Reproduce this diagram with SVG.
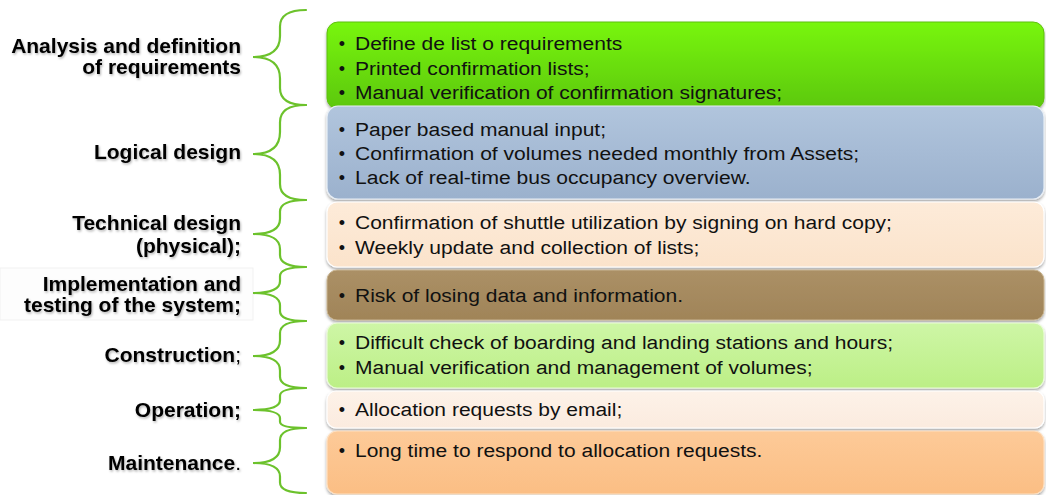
<svg xmlns="http://www.w3.org/2000/svg" width="1046" height="495" viewBox="0 0 1046 495">
<defs>
<style>
.lbl{font-family:"Liberation Sans",Arial,sans-serif;font-weight:bold;font-size:21px;fill:#000;text-anchor:end;filter:url(#tsh)}
.nb{font-weight:normal}
.bt{font-family:"Liberation Sans",Arial,sans-serif;font-size:18px;fill:#111}
.bul{font-family:"Liberation Sans",Arial,sans-serif;font-size:18px;fill:#111;text-anchor:middle}
.box{filter:url(#bsh)}
.brace{fill:none;stroke:#6cc22c;stroke-width:2.2;stroke-linecap:round}
</style>
<filter id="tsh" x="-10%" y="-30%" width="120%" height="160%">
<feDropShadow dx="1" dy="1.5" stdDeviation="1" flood-color="#000" flood-opacity="0.3"/>
</filter>
<filter id="bsh" x="-5%" y="-20%" width="110%" height="150%">
<feDropShadow dx="0" dy="2" stdDeviation="1.5" flood-color="#000" flood-opacity="0.35"/>
</filter>
<linearGradient id="g1" x1="0" y1="0" x2="0" y2="1"><stop offset="0" stop-color="#78f60e"/><stop offset="1" stop-color="#5cc708"/></linearGradient>
<linearGradient id="g2" x1="0" y1="0" x2="0" y2="1"><stop offset="0" stop-color="#b1c5dd"/><stop offset="1" stop-color="#9bb1cd"/></linearGradient>
<linearGradient id="g3" x1="0" y1="0" x2="0" y2="1"><stop offset="0" stop-color="#fdebd9"/><stop offset="1" stop-color="#fbe3cb"/></linearGradient>
<linearGradient id="g4" x1="0" y1="0" x2="0" y2="1"><stop offset="0" stop-color="#ab9066"/><stop offset="1" stop-color="#a08458"/></linearGradient>
<linearGradient id="g5" x1="0" y1="0" x2="0" y2="1"><stop offset="0" stop-color="#cef6a6"/><stop offset="1" stop-color="#bcef86"/></linearGradient>
<linearGradient id="g6" x1="0" y1="0" x2="0" y2="1"><stop offset="0" stop-color="#fdf2e8"/><stop offset="1" stop-color="#fbebdf"/></linearGradient>
<linearGradient id="g7" x1="0" y1="0" x2="0" y2="1"><stop offset="0" stop-color="#fdca98"/><stop offset="1" stop-color="#fbbe84"/></linearGradient>
</defs>
<rect width="1046" height="495" fill="#fff"/>
<rect x="0" y="268" width="253" height="52" fill="#fdfdfd" stroke="#f1f1f1" stroke-width="1"/>

<g id="connectors">
<path class="brace" d="M306,10 Q280,10 280,26.5 L280,36 Q280,57 253,57 Q280,57 280,78.6 L280,88.2 Q280,105 306,105"/>
<path class="brace" d="M306,105 Q280,105 280,122.2 L280,132 Q280,154 253,154 Q280,154 280,174.7 L280,183.9 Q280,200 306,200"/>
<path class="brace" d="M306,200 Q280,200 280,211.6 L280,219 Q280,234 253,234 Q280,234 280,249 L280,255.1 Q280,267 306,267"/>
<path class="brace" d="M306,267 Q280,267 280,276.1 L280,281.3 Q280,293 253,293 Q280,293 280,305.6 L280,311.2 Q280,321 306,321"/>
<path class="brace" d="M306,321 Q280,321 280,333.3 L280,340.2 Q280,356 253,356 Q280,356 280,370.4 L280,376.8 Q280,388 306,388"/>
<path class="brace" d="M306,388 Q280,388 280,395.7 L280,400.1 Q280,410 253,410 Q280,410 280,418.1 L280,421.7 Q280,428 306,428"/>
<path class="brace" d="M306,428 Q280,428 280,440.3 L280,447.2 Q280,463 253,463 Q280,463 280,476.5 L280,482.5 Q280,493 306,493"/>
</g>

<g id="label1"><text class="lbl" x="241" y="53">Analysis and definition</text><text class="lbl" x="241" y="74">of requirements</text></g>
<g id="label2"><text class="lbl" x="241" y="159">Logical design</text></g>
<g id="label3"><text class="lbl" x="241" y="230">Technical design</text><text class="lbl" x="241" y="253">(physical);</text></g>
<g id="label4"><text class="lbl" x="241" y="291">Implementation and</text><text class="lbl" x="241" y="312">testing of the system;</text></g>
<g id="label5"><text class="lbl" x="241" y="362">Construction<tspan class="nb">;</tspan></text></g>
<g id="label6"><text class="lbl" x="241" y="417">Operation;</text></g>
<g id="label7"><text class="lbl" x="241" y="470">Maintenance<tspan class="nb">.</tspan></text></g>

<g id="box1">
<rect class="box" x="327" y="22" width="717" height="87" rx="11" fill="url(#g1)" stroke="#5fbf10" stroke-width="1"/>
<text class="bul" x="342" y="50">•</text><text class="bt" x="355" y="50" textLength="267.3" lengthAdjust="spacingAndGlyphs">Define de list o requirements</text>
<text class="bul" x="342" y="74.5">•</text><text class="bt" x="355" y="74.5" textLength="234.6" lengthAdjust="spacingAndGlyphs">Printed confirmation lists;</text>
<text class="bul" x="342" y="99">•</text><text class="bt" x="355" y="99" textLength="427.2" lengthAdjust="spacingAndGlyphs">Manual verification of confirmation signatures;</text>
</g>
<g id="box2">
<rect class="box" x="327" y="106" width="717" height="93" rx="11" fill="url(#g2)" stroke="#e8eef5" stroke-width="1.2"/>
<text class="bul" x="342" y="136">•</text><text class="bt" x="355" y="136" textLength="251" lengthAdjust="spacingAndGlyphs">Paper based manual input;</text>
<text class="bul" x="342" y="160">•</text><text class="bt" x="355" y="160" textLength="504.2" lengthAdjust="spacingAndGlyphs">Confirmation of volumes needed monthly from Assets;</text>
<text class="bul" x="342" y="184">•</text><text class="bt" x="355" y="184" textLength="395.6" lengthAdjust="spacingAndGlyphs">Lack of real-time bus occupancy overview.</text>
</g>
<g id="box3">
<rect class="box" x="327" y="202" width="717" height="65" rx="10" fill="url(#g3)" stroke="#fff" stroke-width="1.2"/>
<text class="bul" x="342" y="229">•</text><text class="bt" x="355" y="229" textLength="536.9" lengthAdjust="spacingAndGlyphs">Confirmation of shuttle utilization by signing on hard copy;</text>
<text class="bul" x="342" y="254">•</text><text class="bt" x="355" y="254" textLength="344.3" lengthAdjust="spacingAndGlyphs">Weekly update and collection of lists;</text>
</g>
<g id="box4">
<rect class="box" x="327" y="270" width="717" height="50" rx="10" fill="url(#g4)" stroke="#c8b490" stroke-width="1"/>
<text class="bul" x="342" y="302">•</text><text class="bt" x="355" y="302" textLength="328" lengthAdjust="spacingAndGlyphs">Risk of losing data and information.</text>
</g>
<g id="box5">
<rect class="box" x="327" y="323" width="717" height="65" rx="10" fill="url(#g5)" stroke="#eafbd8" stroke-width="1.2"/>
<text class="bul" x="342" y="349">•</text><text class="bt" x="355" y="349" textLength="538.1" lengthAdjust="spacingAndGlyphs">Difficult check of boarding and landing stations and hours;</text>
<text class="bul" x="342" y="374">•</text><text class="bt" x="355" y="374" textLength="457.5" lengthAdjust="spacingAndGlyphs">Manual verification and management of volumes;</text>
</g>
<g id="box6">
<rect class="box" x="327" y="391" width="717" height="37" rx="9" fill="url(#g6)" stroke="#fff" stroke-width="1.2"/>
<text class="bul" x="342" y="416">•</text><text class="bt" x="355" y="416" textLength="267.3" lengthAdjust="spacingAndGlyphs">Allocation requests by email;</text>
</g>
<g id="box7">
<rect class="box" x="327" y="431" width="717" height="63" rx="10" fill="url(#g7)" stroke="#fde0c2" stroke-width="1.2"/>
<text class="bul" x="342" y="457">•</text><text class="bt" x="355" y="457" textLength="407.4" lengthAdjust="spacingAndGlyphs">Long time to respond to allocation requests.</text>
</g>
</svg>
